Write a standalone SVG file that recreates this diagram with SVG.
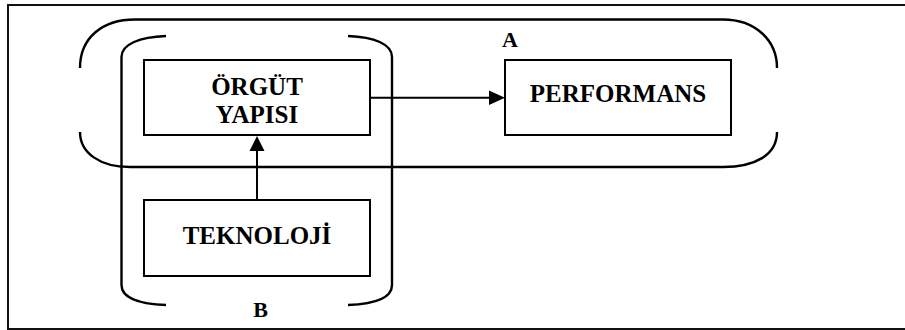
<svg xmlns="http://www.w3.org/2000/svg" width="905" height="330" viewBox="0 0 905 330">
<defs>
<style>
.frame{fill:none;stroke:#111;stroke-width:2}
.br{fill:none;stroke:#000;stroke-width:2.4}
.box{fill:#fff;stroke:#000;stroke-width:2}
.ln{fill:none;stroke:#000;stroke-width:2}
.hd{fill:#000}
text{font-family:"Liberation Serif","Times New Roman",serif;font-weight:bold;fill:#000}
.t{font-size:25px;text-anchor:middle}
.l{font-size:22px}
</style>
</defs>
<rect width="905" height="330" fill="#fff"/>
<path class="frame" d="M906,5 L8,5 L8,329 L906,329"/>
<g id="bracket-A">
<path class="br" d="M80,68 C80,38 102,19.5 135,19.5 L723,19.5 C755,19.5 777,40 777,68"/>
<path class="br" d="M80,132 C80,153 100,167 130,167 L723,167 C755,167 777,155 777,132"/>
<text class="l" x="502" y="47">A</text>
</g>
<g id="bracket-B">
<path class="br" d="M166,36 C140,37 121.5,44 121.5,57 L121.5,285 C121.5,298 140,304 166,305"/>
<path class="br" d="M348,36 C374,37 392,44 392,57 L392,285 C392,298 374,304 348,305"/>
<text class="l" x="260.5" y="317" text-anchor="middle">B</text>
</g>
<g id="orgut">
<rect class="box" x="144" y="60" width="226" height="75"/>
<text class="t" x="257" y="95">ÖRGÜT</text>
<text class="t" x="257" y="123">YAPISI</text>
</g>
<g id="performans">
<rect class="box" x="505" y="60" width="226" height="75"/>
<text class="t" x="618" y="102">PERFORMANS</text>
</g>
<g id="teknoloji">
<rect class="box" x="144" y="200" width="226" height="76"/>
<text class="t" x="257" y="244">TEKNOLOJİ</text>
</g>
<g id="connectors">
<line class="ln" x1="370" y1="97.7" x2="490" y2="97.7"/>
<polygon class="hd" points="505,97.7 489,90.5 489,105"/>
<line class="ln" x1="257" y1="200" x2="257" y2="150"/>
<polygon class="hd" points="257,136 249.5,151 264.5,151"/>
</g>
</svg>
